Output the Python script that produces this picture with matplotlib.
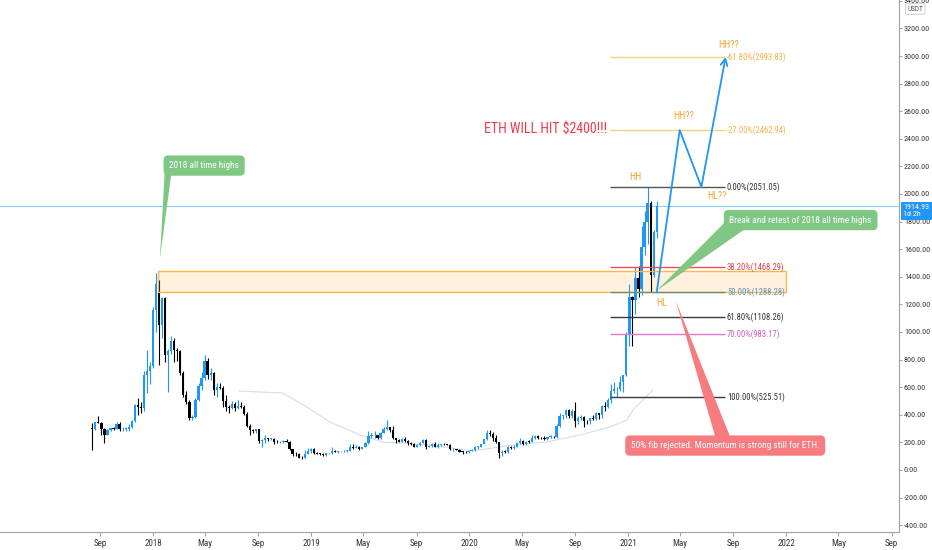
# ETH/USDT weekly with fib levels and projection path
import matplotlib
matplotlib.use('Agg')
import matplotlib.pyplot as plt
import matplotlib.dates as mdates
import matplotlib.transforms as mtransforms
from matplotlib import font_manager as fm
from matplotlib.patches import Polygon, Rectangle
import numpy as np
import pandas as pd

# pick a narrow face if there is one, the chart text is quite condensed
avail = {f.name for f in fm.fontManager.ttflist}
face = next((n for n in ['Liberation Sans Narrow', 'Roboto Condensed', 'Open Sans Condensed',
                         'Liberation Sans', 'Roboto'] if n in avail), 'DejaVu Sans')
plt.rcParams['font.family'] = [face, 'DejaVu Sans']

# weekly candles, Aug 2017 -> Mar 2021
opens = [301, 299, 348, 344, 295, 254, 288, 302, 297, 334, 295, 296, 297, 313, 353, 470, 455, 447, 690, 720,
         755, 1160, 1350, 1050, 1245, 830, 860, 935, 870, 860, 700, 540, 490, 380, 385, 510, 610, 670, 790, 690,
         700, 580, 600, 595, 500, 455, 450, 475, 450, 465, 460, 405, 320, 290, 280, 295, 210, 220, 230, 225,
         226, 205, 200, 205, 211, 206, 150, 115, 114, 88, 85, 117, 140,
         155, 120, 118, 115, 108, 120, 121, 138, 133, 135, 136, 138, 141, 165, 161, 170, 155, 170, 195, 245,
         250, 252, 230, 270, 300, 310, 290, 230, 220, 205, 225, 208, 195, 190, 170, 180, 197, 220, 170, 175,
         190, 170, 180, 186, 185, 183, 150, 151, 148, 132, 130, 128,
         138, 146, 168, 170, 189, 223, 267, 263, 230, 200, 125, 131, 130, 170, 158, 170, 197, 211, 188, 206,
         204, 231, 245, 235, 229, 225, 240, 242, 236, 320, 388, 395, 433, 388, 430, 354, 375, 385, 354, 352,
         375, 368, 410, 396, 464, 460, 510, 575, 585, 585, 640, 685,
         975, 1255, 1230, 1390, 1314, 1614, 1800, 1935, 1416, 1723]
highs = [339, 350, 394, 345, 306, 300, 305, 310, 350, 345, 310, 312, 330, 362, 480, 520, 490, 720, 870, 780,
         1180, 1424, 1380, 1250, 1250, 880, 970, 960, 885, 870, 720, 570, 510, 400, 525, 630, 710, 835, 810, 740,
         710, 630, 630, 610, 540, 470, 500, 490, 510, 490, 470, 420, 330, 300, 300, 300, 225, 250, 235, 230,
         235, 215, 210, 215, 225, 210, 155, 130, 120, 100, 145, 160, 160,
         160, 130, 125, 120, 125, 125, 165, 145, 140, 140, 145, 145, 185, 185, 180, 175, 170, 200, 280, 265,
         285, 255, 275, 315, 365, 315, 320, 235, 225, 230, 237, 215, 200, 195, 185, 200, 225, 225, 180, 195,
         200, 195, 190, 195, 190, 185, 160, 155, 150, 135, 135, 140,
         150, 175, 172, 190, 225, 290, 287, 275, 255, 205, 145, 142, 175, 175, 180, 200, 230, 215, 210, 215,
         250, 250, 250, 240, 245, 242, 250, 245, 330, 415, 400, 440, 445, 440, 490, 390, 395, 390, 365, 380,
         395, 420, 415, 470, 490, 520, 620, 635, 600, 680, 690, 1000,
         1350, 1262, 1470, 1475, 1765, 1875, 2051, 1950, 1740, 1947]
lows = [144, 291, 340, 255, 197, 250, 280, 290, 295, 286, 280, 284, 285, 306, 350, 400, 410, 430, 560, 620,
        740, 1000, 760, 960, 780, 565, 840, 780, 790, 690, 530, 480, 360, 360, 380, 500, 580, 650, 660, 650,
        540, 530, 590, 460, 430, 410, 440, 430, 440, 450, 400, 310, 250, 265, 270, 195, 167, 195, 210, 214,
        190, 195, 195, 195, 200, 145, 100, 105, 85, 82, 84, 115, 125,
        115, 115, 110, 100, 102, 115, 118, 130, 125, 130, 130, 130, 140, 155, 160, 145, 153, 165, 190, 235,
        235, 225, 228, 265, 290, 275, 225, 195, 200, 203, 205, 180, 180, 165, 165, 175, 195, 155, 165, 170,
        165, 160, 175, 180, 180, 145, 140, 145, 130, 117, 125, 125,
        135, 140, 155, 165, 185, 220, 245, 210, 195, 86, 105, 123, 125, 150, 150, 168, 190, 180, 180, 195,
        200, 225, 225, 225, 220, 220, 235, 230, 235, 310, 370, 375, 375, 375, 310, 330, 360, 310, 335, 335,
        365, 365, 370, 375, 430, 450, 485, 555, 525.51, 575, 565, 680,
        900, 900, 1130, 1250, 1270, 1560, 1640, 1290, 1400, 1680]
closes = [299, 348, 344, 295, 254, 288, 302, 297, 334, 295, 296, 297, 313, 353, 470, 455, 447, 690, 720, 755,
          1160, 1350, 1050, 1245, 830, 860, 935, 870, 860, 700, 540, 490, 380, 385, 510, 610, 670, 790, 690, 700,
          580, 600, 595, 500, 455, 450, 475, 450, 465, 460, 405, 320, 290, 280, 295, 210, 220, 230, 225, 226,
          205, 200, 205, 211, 206, 150, 115, 114, 88, 85, 117, 140, 155,
          120, 118, 115, 108, 120, 121, 138, 133, 135, 136, 138, 141, 165, 161, 170, 155, 170, 195, 245, 250,
          252, 230, 270, 300, 310, 290, 230, 220, 205, 225, 208, 195, 190, 170, 180, 197, 220, 170, 175, 190,
          170, 180, 186, 185, 183, 150, 151, 148, 132, 130, 128, 138,
          146, 168, 170, 189, 223, 267, 263, 230, 200, 125, 131, 130, 170, 158, 170, 197, 211, 188, 206, 204,
          231, 245, 235, 229, 225, 240, 242, 236, 320, 388, 395, 433, 388, 430, 354, 375, 385, 354, 352, 375,
          368, 410, 396, 464, 460, 510, 575, 585, 585, 640, 685, 975,
          1255, 1230, 1390, 1314, 1614, 1800, 1935, 1416, 1723, 1915]
weeks = pd.date_range('2017-08-14', periods=len(closes), freq='7D')

# faint indicator line under the candles
curve_dates = ['2018-07-20', '2018-10-27', '2018-12-22', '2019-02-13', '2019-04-23', '2019-06-15',
               '2019-10-02', '2020-01-09', '2020-04-10', '2020-06-28', '2020-09-12', '2020-11-20',
               '2020-12-29', '2021-01-12', '2021-02-27']
curve_values = [572, 558, 457, 348, 254, 203, 181, 138, 181, 203, 254, 312, 362, 435, 580]

# fib levels drawn from 2051.05 down to 525.51
fib_names = ['-61.80%', '-27.00%', '0.00%', '38.20%', '50.00%', '61.80%', '70.00%', '100.00%']
fib_prices = [2993.83, 2462.94, 2051.05, 1468.29, 1288.28, 1108.26, 983.17, 525.51]
fib_line_colors = ['#f9d27a', '#f9d27a', '#555555', '#f0505a', '#6a8f7c', '#3a3a3a', '#e07ad0', '#3a3a3a']
fib_text_colors = ['#f5b54a', '#f5b54a', '#333333', '#e8404a', '#5a94c0', '#333333', '#d05cc0', '#333333']

last_price = 1914.93
zone_low, zone_high = 1288, 1440

path_dates = ['2021-03-08', '2021-04-30', '2021-06-19', '2021-08-14']
path_prices = [1288.28, 2462.94, 2051.05, 2993.83]

tick_dates = ['2017-09-01', '2018-01-01', '2018-05-01', '2018-09-01', '2019-01-01', '2019-05-01',
              '2019-09-01', '2020-01-01', '2020-05-01', '2020-09-01', '2021-01-01', '2021-05-01',
              '2021-09-01', '2022-01-01', '2022-05-01', '2022-09-01']
tick_names = ['Sep', '2018', 'May', 'Sep', '2019', 'May', 'Sep', '2020', 'May', 'Sep', '2021', 'May',
              'Sep', '2022', 'May', 'Sep']

up_col = '#2196f3'
down_col = '#000000'
orange = '#f7a531'


def d(s):
    return mdates.date2num(pd.Timestamp(s))


fig = plt.figure(figsize=(9.32, 5.5), dpi=100)
rend = fig.canvas.get_renderer()


def fit(text, px):
    # font size that makes `text` about px pixels wide
    t = fig.text(0, 0, text, fontsize=10)
    w = t.get_window_extent(rend).width
    t.remove()
    return 10 * px / w


fs_axis = 5.8
fs_fib = 6.2
fs_tag = 7.2
fs_big = fit('ETH WILL HIT $2400!!!', 123)
fs_note = fit('Break and retest of 2018 all time highs', 142)

ax = fig.add_axes([0, 18 / 550, 899 / 932, 532 / 550])

base = d('2018-01-01')
ax.set_xlim(base - 352.9, base + 1720.9)
ax.set_ylim(-449.3, 3405.8)

# candles
x = mdates.date2num(weeks)
o = np.array(opens, dtype=float)
h = np.array(highs, dtype=float)
l = np.array(lows, dtype=float)
c = np.array(closes, dtype=float)
cols = np.where(c >= o, up_col, down_col)
ax.vlines(x, l, h, colors=cols, lw=0.8, zorder=3)
ax.bar(x, np.maximum(np.abs(c - o), 5), bottom=np.minimum(o, c), width=5.2,
       color=cols, linewidth=0, zorder=4)

ax.plot([d(s) for s in curve_dates], curve_values, color='#d3dee9', lw=0.8, zorder=2)

# support / resistance zone
zx0, zx1 = d('2018-01-13'), d('2021-12-31')
ax.add_patch(Rectangle((zx0, zone_low), zx1 - zx0, zone_high - zone_low,
                       fc='#ffe0b2', alpha=0.45, ec='none', zorder=1))
ax.add_patch(Rectangle((zx0, zone_low), zx1 - zx0, zone_high - zone_low,
                       fc='none', ec='#ffb74d', lw=1, zorder=5))

ax.axhline(last_price, color='#90caf9', lw=0.8, zorder=2)

# fib retracement
fx0, fx1 = d('2020-11-21'), d('2021-08-13')
for name, p, lc, tc in zip(fib_names, fib_prices, fib_line_colors, fib_text_colors):
    ax.hlines(p, fx0, fx1, color=lc, lw=1, zorder=5)
    ax.text(fx1 + 4, p, f'{name}({p:.2f})', color=tc, fontsize=fs_fib, va='center', ha='left', zorder=6)

# projected path
px = [d(s) for s in path_dates]
ax.plot(px[:3], path_prices[:3], color='#2196f3', lw=1.3, zorder=6)
ax.annotate('', xy=(px[3], path_prices[3]), xytext=(px[2], path_prices[2]),
            arrowprops=dict(arrowstyle='->', color='#2196f3', lw=1.3, mutation_scale=12,
                            shrinkA=0, shrinkB=0), zorder=6)

# swing labels
ax.text(d('2021-01-17'), 2125, 'HH', color=orange, fontsize=fs_tag, ha='center', va='center')
ax.text(d('2021-05-10'), 2565, 'HH??', color=orange, fontsize=fs_tag, ha='center', va='center')
ax.text(d('2021-08-20'), 3080, 'HH??', color=orange, fontsize=fs_tag, ha='center', va='center')
ax.text(d('2021-07-24'), 1986, 'HL??', color=orange, fontsize=fs_tag, ha='center', va='center')
ax.text(d('2021-03-20'), 1212, 'HL', color=orange, fontsize=fs_tag, ha='center', va='center')

ax.text(d('2020-06-25'), 2470, 'ETH WILL HIT $2400!!!', color='#ef3b4a', fontsize=fs_big,
        ha='center', va='center')

# callouts
green = '#81c784'
red = '#f77c80'
box = dict(boxstyle='round,pad=0.6,rounding_size=0.5', ec='none')
ax.add_patch(Polygon([(d('2018-01-28'), 2160), (d('2018-02-13'), 2160), (d('2018-01-17'), 1534)],
                     closed=True, fc=green, ec='none', zorder=7))
ax.text(d('2018-04-29'), 2206, '2018 all time highs', color='white', fontsize=fs_note, ha='center',
        va='center', bbox=dict(box, fc=green), zorder=8)

ax.add_patch(Polygon([(d('2021-08-17'), 1810), (d('2021-10-04'), 1760), (d('2021-03-08'), 1300)],
                     closed=True, fc=green, ec='none', zorder=7))
ax.text(d('2022-02-03'), 1811, 'Break and retest of 2018 all time highs', color='white', fontsize=fs_note,
        ha='center', va='center', bbox=dict(box, fc=green), zorder=8)

ax.add_patch(Polygon([(d('2021-04-21'), 1225), (d('2021-07-23'), 220), (d('2021-08-27'), 220)],
                     closed=True, fc=red, ec='none', zorder=7))
ax.text(d('2021-08-13'), 177, '50% fib rejected. Momentum is strong still for ETH.', color='white',
        fontsize=fs_note, ha='center', va='center', bbox=dict(box, fc=red), zorder=8)

# axes styling
for s in ['top', 'left']:
    ax.spines[s].set_visible(False)
ax.spines['right'].set_color('#a0a3ab')
ax.spines['bottom'].set_color('#a0a3ab')

ax.yaxis.tick_right()
yt = list(range(-400, 3401, 200))
ax.set_yticks(yt)
ax.set_yticklabels([f'{v:.2f}' for v in yt])
ax.tick_params(axis='y', direction='out', length=2.5, color='#a0a3ab', labelsize=fs_axis,
               labelcolor='#333333', pad=1)
ax.set_xticks([d(s) for s in tick_dates])
ax.set_xticklabels(tick_names)
ax.tick_params(axis='x', direction='out', length=3, color='#a0a3ab', labelsize=6.5,
               labelcolor='#333333', pad=2)

# price scale extras
blend = mtransforms.blended_transform_factory(ax.transAxes, ax.transData)
ax.text(1.005, 1925, '1914.93\n1d 2h', transform=blend, color='white', fontsize=fs_axis, va='top',
        ha='left', linespacing=1.1, clip_on=False, zorder=10,
        bbox=dict(boxstyle='square,pad=0.35', fc='#2196f3', ec='none'))
ax.text(1.018, 0.983, 'USDT', transform=ax.transAxes, color='#555555', fontsize=fs_axis * 0.9,
        ha='center', va='center', clip_on=False, zorder=10,
        bbox=dict(boxstyle='round,pad=0.25', fc='white', ec='#c8c8c8', lw=0.6))

fig.savefig('out.png', dpi=100)
